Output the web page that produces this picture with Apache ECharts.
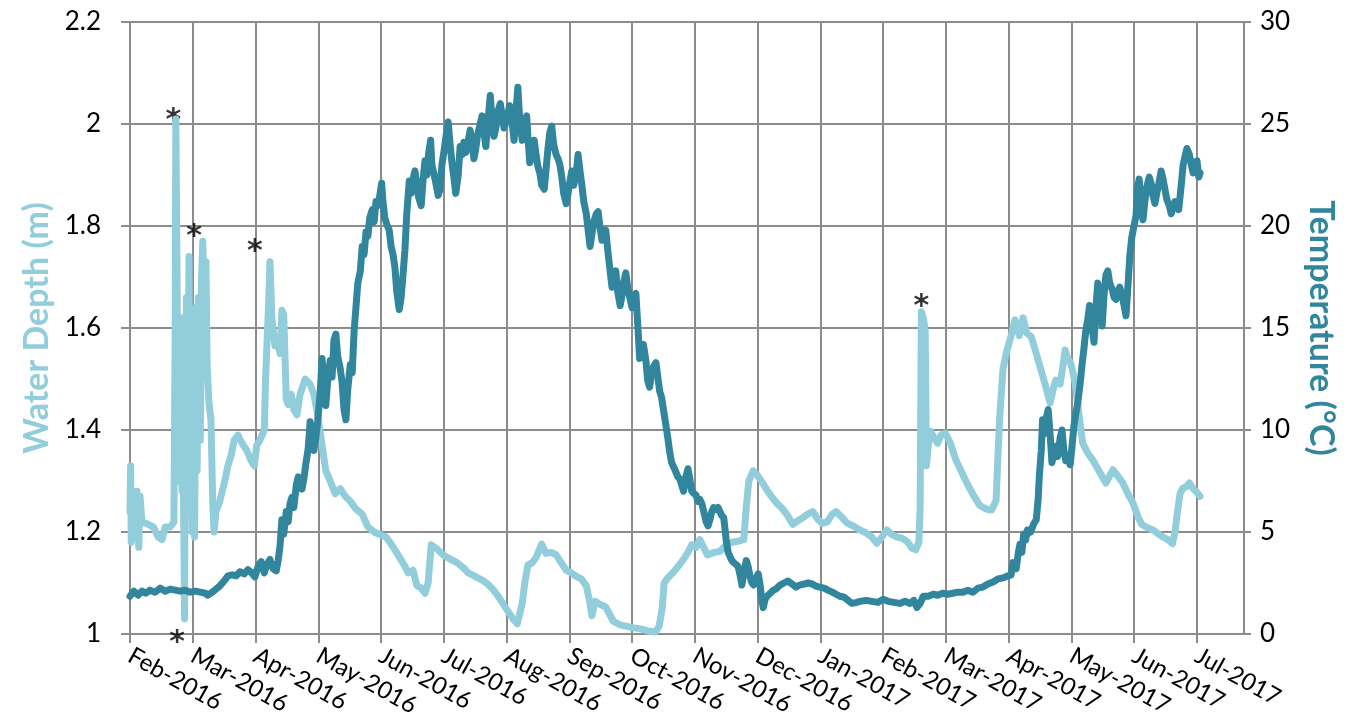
<!DOCTYPE html>
<html>
<head>
<meta charset="utf-8">
<script src="https://cdn.jsdelivr.net/npm/echarts@6/dist/echarts.min.js"></script>
<style>
html,body{margin:0;padding:0;background:#fff;}
#chart{width:1350px;height:721px;}
</style>
</head>
<body>
<div id="chart"></div>
<script>
// x values are month offsets from Feb-2016 (0 = Feb-2016, 1 = Mar-2016, ...)
const monthLabels = ["Feb-2016","Mar-2016","Apr-2016","May-2016","Jun-2016","Jul-2016","Aug-2016","Sep-2016","Oct-2016","Nov-2016","Dec-2016","Jan-2017","Feb-2017","Mar-2017","Apr-2017","May-2017","Jun-2017","Jul-2017"];

// Water depth (m)
const depthSeries = [[0.00,1.24],[0.01,1.33],[0.02,1.18],[0.06,1.23],[0.11,1.28],[0.14,1.17],[0.16,1.27],[0.19,1.22],[0.29,1.215],[0.37,1.21],[0.45,1.19],[0.51,1.185],[0.56,1.21],[0.64,1.21],[0.70,1.22],[0.72,1.6],[0.73,2.01],[0.75,1.7],[0.76,1.30],[0.78,1.6],[0.80,1.35],[0.81,1.62],[0.83,1.28],[0.84,1.45],[0.87,1.03],[0.88,1.45],[0.90,1.66],[0.92,1.25],[0.94,1.74],[0.96,1.30],[0.97,1.55],[0.99,1.20],[1.00,1.62],[1.03,1.19],[1.05,1.64],[1.07,1.32],[1.09,1.66],[1.12,1.38],[1.14,1.70],[1.16,1.77],[1.19,1.56],[1.21,1.73],[1.23,1.52],[1.26,1.45],[1.29,1.42],[1.32,1.25],[1.34,1.20],[1.37,1.24],[1.43,1.26],[1.51,1.30],[1.56,1.33],[1.61,1.35],[1.66,1.38],[1.72,1.39],[1.78,1.375],[1.86,1.36],[1.93,1.34],[1.98,1.33],[2.02,1.37],[2.07,1.38],[2.14,1.40],[2.16,1.50],[2.18,1.56],[2.21,1.65],[2.23,1.73],[2.26,1.62],[2.31,1.565],[2.34,1.58],[2.39,1.55],[2.42,1.635],[2.45,1.625],[2.49,1.46],[2.52,1.45],[2.57,1.47],[2.61,1.44],[2.66,1.43],[2.71,1.47],[2.79,1.50],[2.87,1.49],[2.93,1.47],[2.99,1.43],[3.06,1.37],[3.12,1.32],[3.19,1.30],[3.27,1.275],[3.35,1.285],[3.43,1.27],[3.51,1.26],[3.60,1.245],[3.70,1.235],[3.79,1.21],[3.89,1.20],[3.98,1.195],[4.08,1.19],[4.17,1.175],[4.27,1.155],[4.37,1.135],[4.43,1.12],[4.51,1.125],[4.57,1.095],[4.64,1.09],[4.70,1.08],[4.75,1.10],[4.80,1.175],[4.88,1.168],[4.99,1.155],[5.10,1.147],[5.21,1.14],[5.31,1.13],[5.39,1.12],[5.47,1.115],[5.54,1.11],[5.62,1.105],[5.70,1.098],[5.78,1.088],[5.86,1.075],[5.94,1.06],[6.02,1.045],[6.10,1.03],[6.17,1.02],[6.21,1.04],[6.25,1.06],[6.29,1.10],[6.34,1.135],[6.41,1.14],[6.47,1.15],[6.52,1.165],[6.56,1.176],[6.63,1.158],[6.71,1.16],[6.79,1.155],[6.87,1.14],[6.95,1.125],[7.03,1.12],[7.11,1.113],[7.19,1.108],[7.27,1.095],[7.33,1.06],[7.36,1.036],[7.41,1.064],[7.49,1.058],[7.58,1.053],[7.70,1.025],[7.81,1.018],[7.92,1.015],[8.03,1.012],[8.14,1.01],[8.25,1.006],[8.37,1.004],[8.43,1.015],[8.48,1.05],[8.51,1.10],[8.57,1.11],[8.65,1.12],[8.73,1.132],[8.81,1.145],[8.89,1.16],[8.95,1.175],[9.02,1.17],[9.08,1.185],[9.14,1.17],[9.20,1.155],[9.31,1.16],[9.40,1.162],[9.50,1.175],[9.59,1.18],[9.69,1.182],[9.78,1.185],[9.82,1.25],[9.86,1.30],[9.93,1.32],[9.99,1.312],[10.07,1.298],[10.15,1.282],[10.23,1.268],[10.31,1.256],[10.40,1.245],[10.48,1.232],[10.56,1.215],[10.64,1.222],[10.72,1.228],[10.80,1.235],[10.88,1.24],[10.96,1.225],[11.03,1.217],[11.11,1.22],[11.19,1.235],[11.25,1.24],[11.35,1.228],[11.42,1.218],[11.52,1.212],[11.63,1.204],[11.73,1.198],[11.82,1.19],[11.90,1.178],[11.98,1.19],[12.06,1.204],[12.14,1.195],[12.22,1.19],[12.30,1.188],[12.38,1.182],[12.46,1.168],[12.52,1.165],[12.57,1.18],[12.59,1.25],[12.60,1.45],[12.61,1.632],[12.64,1.62],[12.67,1.596],[12.69,1.33],[12.72,1.37],[12.76,1.397],[12.81,1.385],[12.87,1.374],[12.92,1.39],[12.99,1.394],[13.07,1.375],[13.16,1.341],[13.26,1.315],[13.35,1.292],[13.45,1.27],[13.54,1.252],[13.64,1.245],[13.73,1.243],[13.80,1.262],[13.83,1.35],[13.86,1.43],[13.91,1.52],[13.97,1.555],[14.04,1.585],[14.10,1.616],[14.17,1.585],[14.23,1.62],[14.29,1.59],[14.36,1.583],[14.44,1.55],[14.50,1.524],[14.58,1.49],[14.66,1.453],[14.71,1.48],[14.75,1.498],[14.82,1.49],[14.87,1.53],[14.90,1.557],[14.94,1.54],[14.99,1.531],[15.06,1.492],[15.12,1.43],[15.18,1.374],[15.26,1.355],[15.34,1.341],[15.46,1.315],[15.55,1.296],[15.61,1.31],[15.66,1.322],[15.74,1.31],[15.82,1.296],[15.90,1.275],[15.98,1.257],[16.06,1.23],[16.12,1.215],[16.22,1.208],[16.30,1.204],[16.38,1.197],[16.46,1.19],[16.54,1.185],[16.61,1.177],[16.65,1.2],[16.68,1.23],[16.73,1.275],[16.77,1.285],[16.84,1.29],[16.88,1.296],[16.94,1.285],[17.02,1.275],[17.05,1.27]];

// Temperature (°C)
const tempSeries = [[0.00,1.85],[0.06,2.1],[0.13,1.9],[0.19,2.1],[0.25,2.0],[0.32,2.15],[0.40,2.05],[0.48,2.25],[0.56,2.1],[0.64,2.2],[0.72,2.15],[0.80,2.1],[0.88,2.15],[0.96,2.05],[1.04,2.1],[1.12,2.05],[1.20,2.0],[1.24,1.9],[1.31,2.05],[1.37,2.2],[1.43,2.35],[1.50,2.6],[1.56,2.85],[1.63,2.9],[1.69,2.85],[1.75,3.05],[1.82,2.95],[1.88,3.15],[1.94,3.0],[1.99,2.8],[2.04,3.3],[2.09,3.55],[2.14,3.0],[2.18,3.4],[2.23,3.65],[2.28,3.2],[2.33,3.1],[2.36,3.6],[2.39,4.3],[2.42,5.6],[2.45,4.9],[2.49,6.0],[2.52,5.5],[2.55,6.4],[2.58,6.7],[2.61,6.2],[2.65,7.3],[2.68,7.7],[2.71,7.5],[2.74,7.1],[2.77,7.6],[2.80,8.3],[2.84,9.1],[2.87,10.4],[2.90,9.8],[2.93,9.0],[2.96,9.6],[2.99,10.4],[3.03,11.8],[3.06,13.5],[3.09,12.2],[3.12,11.2],[3.15,12.4],[3.19,13.4],[3.22,12.6],[3.25,14.4],[3.28,14.7],[3.31,13.6],[3.35,13.0],[3.38,12.3],[3.41,11.0],[3.44,10.5],[3.47,12.0],[3.51,13.2],[3.54,12.8],[3.57,14.8],[3.60,16.0],[3.63,17.2],[3.67,17.8],[3.70,19.0],[3.73,18.6],[3.76,19.7],[3.79,19.5],[3.82,20.4],[3.86,20.8],[3.89,20.2],[3.92,21.2],[3.95,21.0],[3.98,21.5],[4.01,22.1],[4.03,21.2],[4.06,20.4],[4.09,20.1],[4.13,19.8],[4.16,19.0],[4.19,18.6],[4.22,18.0],[4.25,16.8],[4.29,15.9],[4.32,16.5],[4.35,17.6],[4.38,18.8],[4.41,20.6],[4.45,22.2],[4.48,21.6],[4.51,22.3],[4.54,22.7],[4.57,22.0],[4.60,21.4],[4.64,21.0],[4.67,22.3],[4.70,23.2],[4.73,22.5],[4.76,23.6],[4.79,24.2],[4.81,23.0],[4.84,22.6],[4.88,22.0],[4.91,21.5],[4.94,21.8],[4.97,23.0],[5.00,23.6],[5.04,24.5],[5.07,25.1],[5.10,24.0],[5.13,23.1],[5.16,22.4],[5.19,21.6],[5.23,22.5],[5.26,23.9],[5.29,23.5],[5.32,24.1],[5.35,23.6],[5.39,24.2],[5.42,24.7],[5.45,24.0],[5.48,23.3],[5.51,23.8],[5.54,24.5],[5.58,25.0],[5.61,25.4],[5.64,24.6],[5.67,23.9],[5.70,25.0],[5.74,26.4],[5.77,25.2],[5.80,24.4],[5.83,24.8],[5.86,25.6],[5.90,26.0],[5.93,25.4],[5.96,24.8],[5.99,25.1],[6.02,25.5],[6.05,25.9],[6.09,25.0],[6.12,24.2],[6.15,25.6],[6.18,26.8],[6.21,25.2],[6.25,24.2],[6.28,24.9],[6.32,25.4],[6.34,24.4],[6.37,23.1],[6.41,23.6],[6.44,24.2],[6.47,23.5],[6.50,22.9],[6.53,22.6],[6.56,22.0],[6.60,21.8],[6.63,22.8],[6.66,23.8],[6.69,24.6],[6.72,24.9],[6.75,24.0],[6.79,23.5],[6.82,23.3],[6.85,23.0],[6.88,22.4],[6.91,21.6],[6.95,21.1],[6.98,21.6],[7.01,22.2],[7.04,22.7],[7.07,22.0],[7.11,22.6],[7.14,23.5],[7.17,22.7],[7.20,22.0],[7.23,21.2],[7.27,20.6],[7.30,19.8],[7.33,19.0],[7.36,19.6],[7.39,20.2],[7.43,20.6],[7.46,20.7],[7.49,19.9],[7.52,19.3],[7.55,19.6],[7.58,19.8],[7.62,18.6],[7.65,17.8],[7.68,17.0],[7.71,17.4],[7.74,17.8],[7.77,16.8],[7.81,16.1],[7.84,16.6],[7.87,17.3],[7.90,17.7],[7.93,17.0],[7.97,16.4],[8.00,16.0],[8.03,16.4],[8.06,16.7],[8.09,15.2],[8.12,13.5],[8.15,14.0],[8.18,14.2],[8.22,13.4],[8.25,12.4],[8.28,12.1],[8.31,12.8],[8.34,13.1],[8.38,13.3],[8.41,12.6],[8.44,11.9],[8.47,11.6],[8.50,11.0],[8.53,10.4],[8.57,9.6],[8.60,8.9],[8.63,8.4],[8.66,8.2],[8.69,8.0],[8.73,7.7],[8.76,7.6],[8.79,7.3],[8.82,7.0],[8.85,7.6],[8.89,8.1],[8.92,7.6],[8.95,7.0],[8.98,6.9],[9.02,6.8],[9.05,6.5],[9.08,6.6],[9.11,6.4],[9.15,5.9],[9.18,5.5],[9.21,5.3],[9.24,5.6],[9.27,6.0],[9.30,6.2],[9.34,6.1],[9.37,6.2],[9.40,6.0],[9.43,5.8],[9.46,5.7],[9.50,4.6],[9.53,4.0],[9.56,3.8],[9.59,3.6],[9.62,3.5],[9.66,3.4],[9.69,3.3],[9.72,2.9],[9.75,2.4],[9.78,3.0],[9.82,3.6],[9.85,3.3],[9.88,2.8],[9.91,2.5],[9.94,2.4],[9.97,2.7],[10.01,2.95],[10.04,2.4],[10.07,1.6],[10.09,1.3],[10.12,1.7],[10.15,1.85],[10.20,2.0],[10.25,2.15],[10.29,2.2],[10.36,2.4],[10.42,2.5],[10.48,2.6],[10.55,2.45],[10.61,2.3],[10.67,2.4],[10.74,2.45],[10.80,2.5],[10.87,2.45],[10.93,2.35],[10.99,2.3],[11.06,2.25],[11.12,2.15],[11.19,2.05],[11.25,1.95],[11.31,1.85],[11.38,1.8],[11.44,1.65],[11.50,1.5],[11.58,1.55],[11.63,1.6],[11.73,1.65],[11.82,1.6],[11.92,1.55],[12.00,1.7],[12.08,1.6],[12.17,1.55],[12.27,1.5],[12.35,1.6],[12.43,1.5],[12.49,1.65],[12.54,1.3],[12.59,1.5],[12.64,1.85],[12.72,1.85],[12.80,1.95],[12.87,1.9],[12.95,2.0],[13.03,1.95],[13.11,2.0],[13.19,2.05],[13.27,2.05],[13.35,2.15],[13.43,2.05],[13.51,2.25],[13.59,2.3],[13.67,2.45],[13.75,2.55],[13.83,2.7],[13.91,2.75],[13.99,2.85],[14.04,2.9],[14.07,3.5],[14.12,3.2],[14.15,3.9],[14.18,4.4],[14.21,4.0],[14.24,4.9],[14.27,4.6],[14.30,5.1],[14.35,5.0],[14.40,5.4],[14.44,5.6],[14.47,6.6],[14.49,7.8],[14.52,9.0],[14.54,10.5],[14.56,9.8],[14.60,10.6],[14.63,11.0],[14.66,9.8],[14.69,8.4],[14.72,8.9],[14.75,9.2],[14.78,8.7],[14.82,9.6],[14.85,10.0],[14.88,9.0],[14.91,8.5],[14.94,8.7],[14.98,8.3],[15.01,9.2],[15.04,10.2],[15.07,10.8],[15.10,11.3],[15.14,12.3],[15.17,13.2],[15.20,14.0],[15.23,14.9],[15.26,15.4],[15.29,16.1],[15.33,15.0],[15.36,14.3],[15.39,16.0],[15.42,17.2],[15.46,16.2],[15.49,15.1],[15.52,16.6],[15.55,17.6],[15.58,17.8],[15.61,17.2],[15.65,16.9],[15.68,16.5],[15.71,16.4],[15.74,16.8],[15.77,17.0],[15.80,16.7],[15.84,16.1],[15.87,15.6],[15.90,17.0],[15.93,18.5],[15.96,19.4],[15.99,19.9],[16.03,20.5],[16.05,21.8],[16.08,22.3],[16.11,21.0],[16.14,20.3],[16.17,21.2],[16.20,21.9],[16.24,22.4],[16.27,22.1],[16.30,21.5],[16.33,21.1],[16.36,21.6],[16.40,22.2],[16.43,22.7],[16.46,22.3],[16.49,21.8],[16.52,21.3],[16.56,21.0],[16.59,20.6],[16.62,20.9],[16.65,21.2],[16.68,21.0],[16.71,20.8],[16.75,22.0],[16.78,23.0],[16.81,23.4],[16.84,23.8],[16.88,23.5],[16.91,23.0],[16.94,22.6],[16.97,22.9],[17.00,23.2],[17.03,22.4],[17.05,22.6]];

// Asterisk annotations (month offset, water depth)
const asteriskPoints = [[0.69,2.018],[1.02,1.789],[1.99,1.760],[0.75,0.9945],[12.61,1.652]];

const depthColor = '#92CDDC';
const tempColor = '#31859C';
const gridColor = '#8C8C8C';
const fontFam = 'Lato, "Open Sans", sans-serif';

const chart = echarts.init(document.getElementById('chart'), null, {renderer: 'canvas'});
chart.setOption({
  backgroundColor: '#ffffff',
  animation: false,
  grid: {left: 130, right: 106, top: 22, bottom: 87, containLabel: false},
  xAxis: {
    type: 'value', min: 0, max: 17.75, interval: 1,
    axisLine: {show: true, lineStyle: {color: gridColor, width: 2}},
    axisTick: {show: true, length: 9, lineStyle: {color: gridColor, width: 2}},
    splitLine: {show: true, lineStyle: {color: gridColor, width: 2}},
    axisLabel: {
      rotate: -29, margin: 20, color: '#000', fontSize: 24, fontFamily: fontFam,
      showMaxLabel: false,
      formatter: function (v) { return Number.isInteger(v) && monthLabels[v] ? monthLabels[v] : ''; }
    }
  },
  yAxis: [{
    type: 'value', min: 1, max: 2.2, interval: 0.2, position: 'left',
    name: 'Water Depth (m)', nameLocation: 'middle', nameRotate: 90, nameGap: 72,
    nameTextStyle: {color: depthColor, fontSize: 34, fontWeight: 'bold', fontFamily: fontFam},
    axisLine: {show: true, lineStyle: {color: gridColor, width: 2}},
    axisTick: {show: true, length: 9, lineStyle: {color: gridColor, width: 2}},
    splitLine: {show: true, lineStyle: {color: gridColor, width: 2}},
    axisLabel: {color: '#000', fontSize: 26, fontFamily: fontFam, margin: 29,
      formatter: function (v) { return String(Math.round(v * 10) / 10); }}
  }, {
    type: 'value', min: 0, max: 30, interval: 5, position: 'right',
    name: 'Temperature (°C)', nameLocation: 'middle', nameRotate: -90, nameGap: 60,
    nameTextStyle: {color: tempColor, fontSize: 34, fontWeight: 'bold', fontFamily: fontFam},
    axisLine: {show: true, lineStyle: {color: gridColor, width: 2}},
    axisTick: {show: true, length: 7, lineStyle: {color: gridColor, width: 2}},
    splitLine: {show: false},
    axisLabel: {color: '#000', fontSize: 26, fontFamily: fontFam, margin: 16}
  }],
  series: [{
    name: 'Water Depth', type: 'line', yAxisIndex: 0, data: depthSeries,
    showSymbol: false, symbol: 'none', smooth: false,
    lineStyle: {color: depthColor, width: 7, join: 'round', cap: 'round'}
  }, {
    name: 'Temperature', type: 'line', yAxisIndex: 1, data: tempSeries,
    showSymbol: false, symbol: 'none', smooth: false,
    lineStyle: {color: tempColor, width: 7, join: 'round', cap: 'round'}
  }, {
    name: 'Asterisks', type: 'scatter', yAxisIndex: 0, data: asteriskPoints,
    symbolSize: 1, itemStyle: {color: 'rgba(0,0,0,0)'}, clip: false,
    label: {show: true, position: 'inside', formatter: '*', color: '#000',
      fontSize: 30, fontWeight: 'bold', fontFamily: '"DejaVu Sans", sans-serif', offset: [0, 6]}
  }]
});
</script>
</body>
</html>
